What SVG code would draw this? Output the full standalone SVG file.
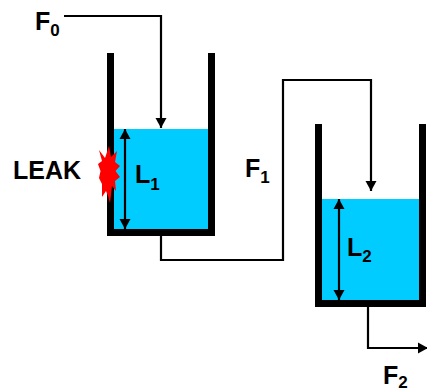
<svg xmlns="http://www.w3.org/2000/svg" width="427" height="392" viewBox="0 0 427 392">
<style>
.w{fill:#00ccff}
.t{fill:#000}
.c{fill:none;stroke:#000;stroke-width:2.2}
.l{font-family:"Liberation Sans",Arial,sans-serif;font-weight:700;font-size:25px;fill:#000}
.s{font-size:17px}
</style>
<defs>
<marker id="a" markerUnits="userSpaceOnUse" markerWidth="12" markerHeight="12" refX="10" refY="6" orient="auto-start-reverse"><path d="M0 0.500L10 6L0 11.500Z" fill="#000"/></marker>
</defs>
<g id="tank1">
<rect class="w" x="114" y="129" width="94" height="100"/>
<path class="t" d="M107 53h7v176h94V53h7v183H107Z"/>
</g>
<g id="tank2">
<rect class="w" x="322" y="199" width="97" height="101"/>
<path class="t" d="M315 124h7v176h97V124h7v183H315Z"/>
</g>
<g id="leak">
<polygon fill="#ff0000" points="109,146 111,157 117,151 115,162 120,166 115.500,171 120,177 115,181 116,191 112,186 110,203 108,196 106,191 102,197 102,184 99,178 100.500,171 98,164 102,161 99,150 105,158"/>
</g>
<g id="connectors">
<path class="c" marker-end="url(#a)" d="M64 16H161V128"/>
<path class="c" marker-end="url(#a)" d="M161 236V260H283V80H371V191"/>
<path class="c" marker-end="url(#a)" d="M368 307V348H428"/>
<path class="c" marker-start="url(#a)" marker-end="url(#a)" d="M125 129V229"/>
<path class="c" marker-start="url(#a)" marker-end="url(#a)" d="M339 199V300"/>
</g>
<g id="labels">
<text class="l" x="35" y="30">F<tspan class="s" dy="6">0</tspan></text>
<text class="l" x="13" y="179">LEAK</text>
<text class="l" x="135" y="183">L<tspan class="s" dy="7">1</tspan></text>
<text class="l" x="245" y="177">F<tspan class="s" dy="6">1</tspan></text>
<text class="l" x="347" y="256">L<tspan class="s" dy="6">2</tspan></text>
<text class="l" x="383" y="384">F<tspan class="s" dy="4">2</tspan></text>
</g>
</svg>
